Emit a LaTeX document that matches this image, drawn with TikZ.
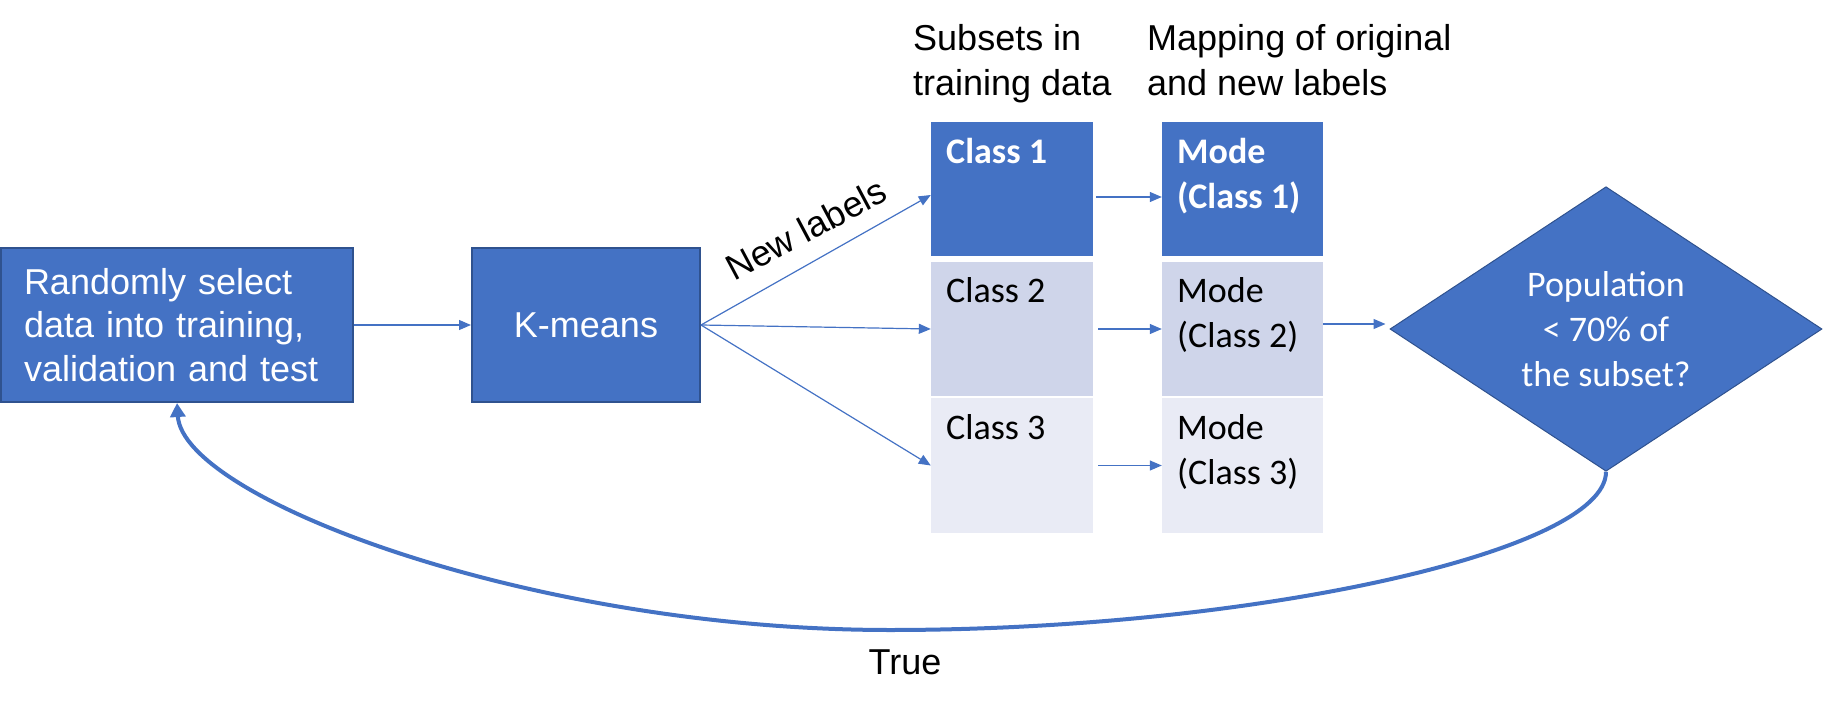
\documentclass[tikz,border=0pt]{standalone}
\usepackage{fontspec}
\setmainfont{Liberation Sans}
\newfontfamily\calibrifont{Carlito}
\usetikzlibrary{arrows.meta,shapes.geometric}

\definecolor{accent}{HTML}{4472C4}
\definecolor{edgeblue}{HTML}{2F528F}
\definecolor{rowmid}{HTML}{CFD5EA}
\definecolor{rowlight}{HTML}{E9EBF5}

\begin{document}
\begin{tikzpicture}[
  x=1pt, y=-1pt,
  bluebox/.style={draw=edgeblue, line width=2pt, fill=accent, text=white,
    inner sep=0pt, font=\fontsize{36}{43.5}\selectfont},
  cell/.style={draw=none, inner sep=0pt},
  celltext/.style={anchor=north west, inner sep=0pt, align=left,
    font=\calibrifont\fontsize{36}{45}\selectfont},
  heading/.style={anchor=north west, inner sep=0pt, align=left,
    font=\fontsize{36}{45}\selectfont},
  flow/.style={accent, line width=1.2pt, -{Triangle[length=12pt,width=10pt]}},
  loopback/.style={accent, line width=4pt, -{Triangle[length=14pt,width=15pt]}}
]
\useasboundingbox (0,0) rectangle (1829,706);

% process boxes
\node[bluebox, minimum width=352pt, minimum height=154pt, text width=306pt, align=left] (sel) at (177,325)
  {Randomly select\\data into training,\\validation and test};
\node[bluebox, minimum width=228pt, minimum height=154pt] (km) at (586,325) {K-means};

% column headings
\node[heading] (h1) at (913,20) {\rule{0pt}{30pt}Subsets in\\training data};
\node[heading] (h2) at (1147,20) {\rule{0pt}{30pt}Mapping of original\\and new labels};

% subsets column
\node[cell, fill=accent,   minimum width=162pt, minimum height=134pt] (c1) at (1012,189) {};
\node[cell, fill=rowmid,   minimum width=162pt, minimum height=134pt] (c2) at (1012,329) {};
\node[cell, fill=rowlight, minimum width=162pt, minimum height=135pt] (c3) at (1012,465.5) {};
\node[celltext, text=white] (c1t) at (946,133) {\rule{0pt}{30pt}\bfseries Class 1};
\node[celltext] (c2t) at (946,272) {\rule{0pt}{30pt}Class 2};
\node[celltext] (c3t) at (946,409) {\rule{0pt}{30pt}Class 3};

% mapping column
\node[cell, fill=accent,   minimum width=161pt, minimum height=134pt] (m1) at (1242.5,189) {};
\node[cell, fill=rowmid,   minimum width=161pt, minimum height=134pt] (m2) at (1242.5,329) {};
\node[cell, fill=rowlight, minimum width=161pt, minimum height=135pt] (m3) at (1242.5,465.5) {};
\node[celltext, text=white] (m1t) at (1177,133) {\rule{0pt}{30pt}\bfseries Mode\\\bfseries (Class 1)};
\node[celltext] (m2t) at (1177,272) {\rule{0pt}{30pt}Mode\\(Class 2)};
\node[celltext] (m3t) at (1177,409) {\rule{0pt}{30pt}Mode\\(Class 3)};

% decision
\node[diamond, draw=edgeblue, line width=1pt, fill=accent, text=white,
  minimum width=432pt, minimum height=272pt, inner sep=0pt, align=center,
  font=\calibrifont\fontsize{36}{45}\selectfont] (dec) at (1606,329)
  {Population\\< 70\% of\\the subset?};

% connectors
\draw[flow] (sel.east) -- (km.west);
\draw[flow] (km.east) -- ([yshift=-6pt]c1.west);
\draw[flow] (km.east) -- (c2.west);
\draw[flow] (km.east) -- (c3.west);
\node[rotate=28, font=\fontsize{36}{43}\selectfont] (nl) at (806,229) {New labels};

\draw[flow, shorten <=3pt] ([yshift=-8pt]c1.east) -- ([yshift=-8pt]m1.west);
\draw[flow, shorten <=5pt] (c2.east) -- (m2.west);
\draw[flow, shorten <=5pt] (c3.east) -- (m3.west);
\draw[flow, shorten >=4pt] ([yshift=5pt]m2.east) -- ([yshift=5pt]dec.west);

% feedback loop
\coordinate (low) at (890,630);
\draw[loopback] (dec.south) .. controls +(0,80) and +(360,0) .. (low)
  .. controls +(-360,0) and +(6,95) .. (sel.south);
\node[font=\fontsize{36}{43}\selectfont, anchor=base] (truelbl) at (905,674) {True};
\end{tikzpicture}
\end{document}
